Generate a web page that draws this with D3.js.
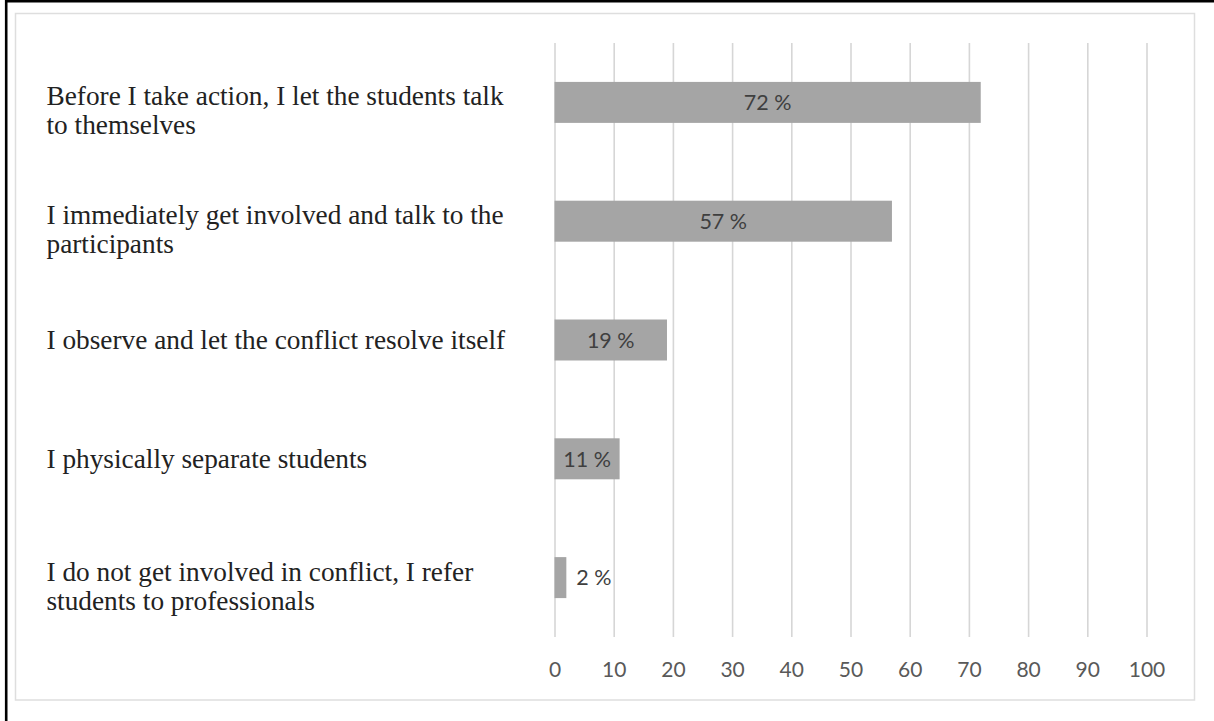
<!DOCTYPE html>
<html>
<head>
<meta charset="utf-8">
<script src="https://cdn.jsdelivr.net/npm/d3@7/dist/d3.min.js"></script>
<style>
  html, body { margin: 0; padding: 0; background: #fff; }
  svg { display: block; }
</style>
</head>
<body>
<svg id="chart" width="1214" height="721"></svg>
<script>
// Responses (one label per bar; "\n" marks a line break in the label)
const categories = [
  "Before I take action, I let the students talk\nto themselves",
  "I immediately get involved and talk to the\nparticipants",
  "I observe and let the conflict resolve itself",
  "I physically separate students",
  "I do not get involved in conflict, I refer\nstudents to professionals"
];
const values = [72, 57, 19, 11, 2];
const tickValues = [0, 10, 20, 30, 40, 50, 60, 70, 80, 90, 100];

const W = 1214, H = 721;
const plot = { left: 554.5, right: 1146.5, top: 43, bottom: 637 };

const svg = d3.select("#chart");

// outer black border (top and left edges) and light inner frame
svg.append("line").attr("x1", 5).attr("x2", W).attr("y1", 1.2).attr("y2", 1.2)
  .attr("stroke", "#000").attr("stroke-width", 2.6);
svg.append("line").attr("x1", 6.2).attr("x2", 6.2).attr("y1", 0).attr("y2", H)
  .attr("stroke", "#000").attr("stroke-width", 2.6);
svg.append("rect").attr("x", 15.5).attr("y", 13.5).attr("width", 1179).attr("height", 686.5)
  .attr("fill", "none").attr("stroke", "#dedede").attr("stroke-width", 1.5);

const x = d3.scaleLinear().domain([0, 100]).range([plot.left, plot.right]);
const y = d3.scaleBand().domain(categories).range([plot.top, plot.bottom])
  .paddingInner(0.655).paddingOuter(0.3275);

// vertical gridlines with tick labels underneath
const axis = svg.append("g")
  .attr("transform", `translate(0,${plot.bottom})`)
  .call(d3.axisBottom(x).tickValues(tickValues).tickFormat(d3.format("d"))
    .tickSize(-(plot.bottom - plot.top)).tickPadding(25));
axis.select(".domain").remove();
axis.selectAll(".tick line").attr("stroke", "#d6d6d6").attr("stroke-width", 1.6);
axis.selectAll(".tick text")
  .attr("fill", "#595959")
  .style("font-family", "Lato, 'Open Sans', sans-serif")
  .style("font-size", "21px");

// bars
svg.append("g").selectAll("rect").data(values).join("rect")
  .attr("x", x(0))
  .attr("y", (d, i) => y(categories[i]))
  .attr("width", d => x(d) - x(0))
  .attr("height", y.bandwidth())
  .attr("fill", "#a5a5a5");

// value labels: centred in the bar, or just past its end when the bar is too short
svg.append("g").selectAll("text").data(values).join("text")
  .attr("x", d => (x(d) - x(0) > 50 ? (x(0) + x(d)) / 2 : x(d) + 10))
  .attr("y", (d, i) => y(categories[i]) + y.bandwidth() / 2)
  .attr("dy", "0.36em")
  .attr("text-anchor", d => (x(d) - x(0) > 50 ? "middle" : "start"))
  .attr("fill", "#3f3f3f")
  .style("font-family", "Lato, 'Open Sans', sans-serif")
  .style("font-size", "21.5px")
  .text(d => `${d} %`);

// category labels on the left
const lineH = 29;
const labels = svg.append("g").selectAll("text").data(categories).join("text")
  .attr("x", 46.5)
  .attr("fill", "#222")
  .style("font-family", "'Liberation Serif', 'Times New Roman', serif")
  .style("font-size", "27.3px");
labels.each(function (c) {
  const lines = c.split("\n");
  const cy = y(c) + y.bandwidth() / 2;
  const first = lines.length > 1 ? cy + 3 : cy + 9;
  d3.select(this).selectAll("tspan").data(lines).join("tspan")
    .attr("x", 46.5)
    .attr("y", (l, i) => first + i * lineH)
    .text(l => l);
});
</script>
</body>
</html>
